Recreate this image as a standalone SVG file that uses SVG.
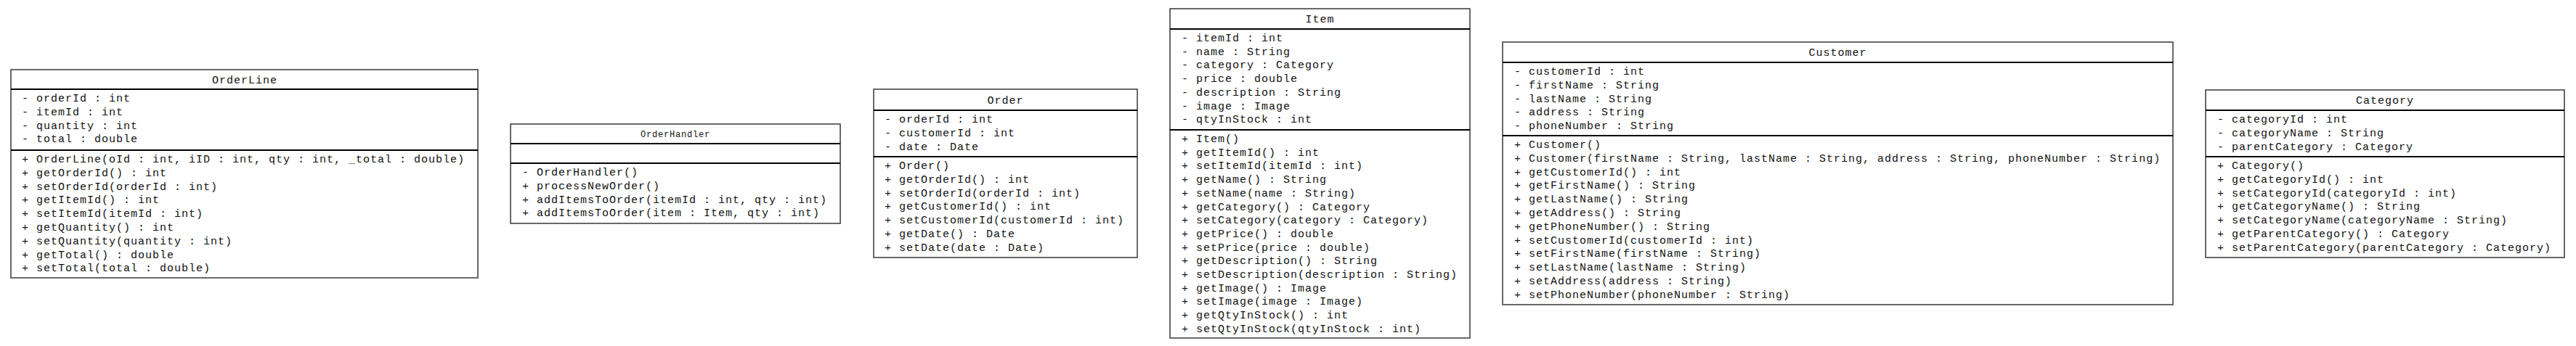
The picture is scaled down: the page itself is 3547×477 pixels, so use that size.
<svg xmlns="http://www.w3.org/2000/svg" width="3547" height="477" viewBox="0 0 3547 477">
<style>
.box{fill:#fff;stroke:#444;stroke-width:1.6}
.sep{stroke:#000;stroke-width:2}
text{font-family:"Liberation Mono","DejaVu Sans Mono",monospace;font-size:15px;letter-spacing:1px;fill:#111}
.t{text-anchor:middle}
.ts{font-size:12px;letter-spacing:0.8px}
</style>
<rect width="3547" height="477" fill="#fff"/>
<g id="connectors"></g>

<g id="OrderLine">
<rect class="box" x="15" y="96" width="643" height="287"/>
<line class="sep" x1="15" y1="123" x2="658" y2="123"/>
<line class="sep" x1="15" y1="207" x2="658" y2="207"/>
<text class="t" x="337" y="114.5">OrderLine</text>
<text x="30" y="140">- orderId : int</text>
<text x="30" y="158.8">- itemId : int</text>
<text x="30" y="177.6">- quantity : int</text>
<text x="30" y="196.4">- total : double</text>
<text x="30" y="224">+ OrderLine(oId : int, iID : int, qty : int, _total : double)</text>
<text x="30" y="242.8">+ getOrderId() : int</text>
<text x="30" y="261.6">+ setOrderId(orderId : int)</text>
<text x="30" y="280.4">+ getItemId() : int</text>
<text x="30" y="299.2">+ setItemId(itemId : int)</text>
<text x="30" y="318">+ getQuantity() : int</text>
<text x="30" y="336.8">+ setQuantity(quantity : int)</text>
<text x="30" y="355.6">+ getTotal() : double</text>
<text x="30" y="374.4">+ setTotal(total : double)</text>
</g>

<g id="OrderHandler">
<rect class="box" x="703" y="171" width="454" height="137"/>
<line class="sep" x1="703" y1="198" x2="1157" y2="198"/>
<line class="sep" x1="703" y1="225" x2="1157" y2="225"/>
<text class="t ts" x="930" y="189">OrderHandler</text>
<text x="719" y="242">- OrderHandler()</text>
<text x="719" y="260.8">+ processNewOrder()</text>
<text x="719" y="279.6">+ addItemsToOrder(itemId : int, qty : int)</text>
<text x="719" y="298.4">+ addItemsToOrder(item : Item, qty : int)</text>
</g>

<g id="Order">
<rect class="box" x="1203" y="123" width="363" height="232"/>
<line class="sep" x1="1203" y1="152" x2="1566" y2="152"/>
<line class="sep" x1="1203" y1="216" x2="1566" y2="216"/>
<text class="t" x="1384.5" y="142.5">Order</text>
<text x="1218" y="169">- orderId : int</text>
<text x="1218" y="187.8">- customerId : int</text>
<text x="1218" y="206.6">- date : Date</text>
<text x="1218" y="233">+ Order()</text>
<text x="1218" y="251.8">+ getOrderId() : int</text>
<text x="1218" y="270.6">+ setOrderId(orderId : int)</text>
<text x="1218" y="289.4">+ getCustomerId() : int</text>
<text x="1218" y="308.2">+ setCustomerId(customerId : int)</text>
<text x="1218" y="327">+ getDate() : Date</text>
<text x="1218" y="345.8">+ setDate(date : Date)</text>
</g>

<g id="Item">
<rect class="box" x="1611" y="12" width="413" height="454"/>
<line class="sep" x1="1611" y1="40" x2="2024" y2="40"/>
<line class="sep" x1="1611" y1="179" x2="2024" y2="179"/>
<text class="t" x="1817.5" y="31">Item</text>
<text x="1627" y="57">- itemId : int</text>
<text x="1627" y="75.7">- name : String</text>
<text x="1627" y="94.4">- category : Category</text>
<text x="1627" y="113.1">- price : double</text>
<text x="1627" y="131.8">- description : String</text>
<text x="1627" y="150.5">- image : Image</text>
<text x="1627" y="169.2">- qtyInStock : int</text>
<text x="1627" y="196">+ Item()</text>
<text x="1627" y="214.7">+ getItemId() : int</text>
<text x="1627" y="233.4">+ setItemId(itemId : int)</text>
<text x="1627" y="252.1">+ getName() : String</text>
<text x="1627" y="270.8">+ setName(name : String)</text>
<text x="1627" y="289.5">+ getCategory() : Category</text>
<text x="1627" y="308.2">+ setCategory(category : Category)</text>
<text x="1627" y="326.9">+ getPrice() : double</text>
<text x="1627" y="345.6">+ setPrice(price : double)</text>
<text x="1627" y="364.3">+ getDescription() : String</text>
<text x="1627" y="383">+ setDescription(description : String)</text>
<text x="1627" y="401.7">+ getImage() : Image</text>
<text x="1627" y="420.4">+ setImage(image : Image)</text>
<text x="1627" y="439.1">+ getQtyInStock() : int</text>
<text x="1627" y="457.8">+ setQtyInStock(qtyInStock : int)</text>
</g>

<g id="Customer">
<rect class="box" x="2069" y="58" width="923" height="362"/>
<line class="sep" x1="2069" y1="86" x2="2992" y2="86"/>
<line class="sep" x1="2069" y1="187" x2="2992" y2="187"/>
<text class="t" x="2530.5" y="77">Customer</text>
<text x="2085" y="103">- customerId : int</text>
<text x="2085" y="121.8">- firstName : String</text>
<text x="2085" y="140.6">- lastName : String</text>
<text x="2085" y="159.4">- address : String</text>
<text x="2085" y="178.2">- phoneNumber : String</text>
<text x="2085" y="204">+ Customer()</text>
<text x="2085" y="222.8">+ Customer(firstName : String, lastName : String, address : String, phoneNumber : String)</text>
<text x="2085" y="241.6">+ getCustomerId() : int</text>
<text x="2085" y="260.4">+ getFirstName() : String</text>
<text x="2085" y="279.2">+ getLastName() : String</text>
<text x="2085" y="298">+ getAddress() : String</text>
<text x="2085" y="316.8">+ getPhoneNumber() : String</text>
<text x="2085" y="335.6">+ setCustomerId(customerId : int)</text>
<text x="2085" y="354.4">+ setFirstName(firstName : String)</text>
<text x="2085" y="373.2">+ setLastName(lastName : String)</text>
<text x="2085" y="392">+ setAddress(address : String)</text>
<text x="2085" y="410.8">+ setPhoneNumber(phoneNumber : String)</text>
</g>

<g id="Category">
<rect class="box" x="3037" y="124" width="494" height="231"/>
<line class="sep" x1="3037" y1="152" x2="3531" y2="152"/>
<line class="sep" x1="3037" y1="216" x2="3531" y2="216"/>
<text class="t" x="3284" y="143">Category</text>
<text x="3053" y="169">- categoryId : int</text>
<text x="3053" y="187.8">- categoryName : String</text>
<text x="3053" y="206.6">- parentCategory : Category</text>
<text x="3053" y="233">+ Category()</text>
<text x="3053" y="251.8">+ getCategoryId() : int</text>
<text x="3053" y="270.6">+ setCategoryId(categoryId : int)</text>
<text x="3053" y="289.4">+ getCategoryName() : String</text>
<text x="3053" y="308.2">+ setCategoryName(categoryName : String)</text>
<text x="3053" y="327">+ getParentCategory() : Category</text>
<text x="3053" y="345.8">+ setParentCategory(parentCategory : Category)</text>
</g>
</svg>
